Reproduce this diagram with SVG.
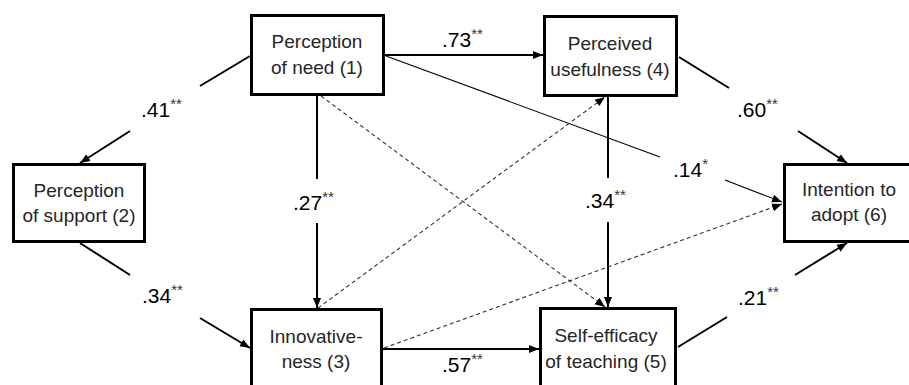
<svg xmlns="http://www.w3.org/2000/svg" width="909" height="385" viewBox="0 0 909 385">
<defs>
<marker id="ah" markerUnits="userSpaceOnUse" markerWidth="10" markerHeight="10" viewBox="0 0 10 10" refX="10" refY="5" orient="auto">
<path d="M0,1 L10,5 L0,9 Z" fill="#000"/>
</marker>
<style>
.box{fill:#fff;stroke:#000;stroke-width:3}
.nt{font-family:"Liberation Sans",Arial,sans-serif;font-size:19px;fill:#262626;text-anchor:middle}
.lb{font-family:"Liberation Sans",Arial,sans-serif;font-size:21px;fill:#000}
.st{font-size:15px;fill:#333}
.s{stroke:#000;stroke-width:2;fill:none}
.t{stroke:#000;stroke-width:1.1;fill:none}
.d{stroke:#333;stroke-width:1.1;stroke-dasharray:4 3;fill:none}
</style>
</defs>
<g id="connectors">
<line class="s" x1="385" y1="55" x2="543" y2="55" marker-end="url(#ah)"/>
<line class="t" x1="386" y1="56" x2="660" y2="157"/>
<line class="t" x1="725" y1="180" x2="782" y2="202" marker-end="url(#ah)"/>
<line class="s" x1="250" y1="56" x2="200" y2="86"/>
<line class="s" x1="130" y1="131" x2="80" y2="163" marker-end="url(#ah)"/>
<line class="s" x1="80" y1="243" x2="130" y2="275"/>
<line class="s" x1="200" y1="318" x2="250" y2="348" marker-end="url(#ah)"/>
<line class="s" x1="317" y1="96" x2="317" y2="179"/>
<line class="s" x1="317" y1="223" x2="317" y2="308" marker-end="url(#ah)"/>
<line class="s" x1="383" y1="349" x2="539" y2="349" marker-end="url(#ah)"/>
<line class="s" x1="608" y1="97" x2="608" y2="178"/>
<line class="s" x1="608" y1="222" x2="608" y2="307" marker-end="url(#ah)"/>
<line class="s" x1="679" y1="57" x2="729" y2="88"/>
<line class="s" x1="798" y1="131" x2="847" y2="163" marker-end="url(#ah)"/>
<line class="s" x1="678" y1="347" x2="727" y2="317"/>
<line class="s" x1="795" y1="275" x2="847" y2="243" marker-end="url(#ah)"/>
<line class="d" x1="318" y1="308" x2="605" y2="97" marker-end="url(#ah)"/>
<line class="d" x1="321" y1="96" x2="605" y2="307" marker-end="url(#ah)"/>
<line class="d" x1="384" y1="348" x2="782" y2="204" marker-end="url(#ah)"/>
</g>
<g id="labels">
<text class="lb" x="442" y="47">.73<tspan class="st" dy="-8">**</tspan></text>
<text class="lb" x="141" y="117">.41<tspan class="st" dy="-8">**</tspan></text>
<text class="lb" x="142" y="303">.34<tspan class="st" dy="-8">**</tspan></text>
<text class="lb" x="293" y="210">.27<tspan class="st" dy="-8">**</tspan></text>
<text class="lb" x="442" y="372">.57<tspan class="st" dy="-8">**</tspan></text>
<text class="lb" x="585" y="208">.34<tspan class="st" dy="-8">**</tspan></text>
<text class="lb" x="737" y="117">.60<tspan class="st" dy="-8">**</tspan></text>
<text class="lb" x="673" y="177">.14<tspan class="st" dy="-8">*</tspan></text>
<text class="lb" x="738" y="305">.21<tspan class="st" dy="-8">**</tspan></text>
</g>
<g id="n1">
<rect class="box" x="251.5" y="15.5" width="132" height="79"/>
<text class="nt" x="317" y="48">Perception</text>
<text class="nt" x="317" y="74">of need (1)</text>
</g>
<g id="n2">
<rect class="box" x="13.5" y="164.5" width="131" height="77"/>
<text class="nt" x="79" y="197">Perception</text>
<text class="nt" x="79" y="222">of support (2)</text>
</g>
<g id="n3">
<rect class="box" x="251.5" y="309.5" width="130" height="100"/>
<text class="nt" x="316" y="343">Innovative-</text>
<text class="nt" x="316" y="368">ness (3)</text>
</g>
<g id="n4">
<rect class="box" x="544.5" y="16.5" width="132" height="79"/>
<text class="nt" x="610" y="50">Perceived</text>
<text class="nt" x="610" y="76">usefulness (4)</text>
</g>
<g id="n5">
<rect class="box" x="540.5" y="308.5" width="135" height="100"/>
<text class="nt" x="606" y="342">Self-efficacy</text>
<text class="nt" x="606" y="368">of teaching (5)</text>
</g>
<g id="n6">
<rect class="box" x="784.5" y="164.5" width="132" height="77"/>
<text class="nt" x="849" y="196">Intention to</text>
<text class="nt" x="849" y="221">adopt (6)</text>
</g>
</svg>
